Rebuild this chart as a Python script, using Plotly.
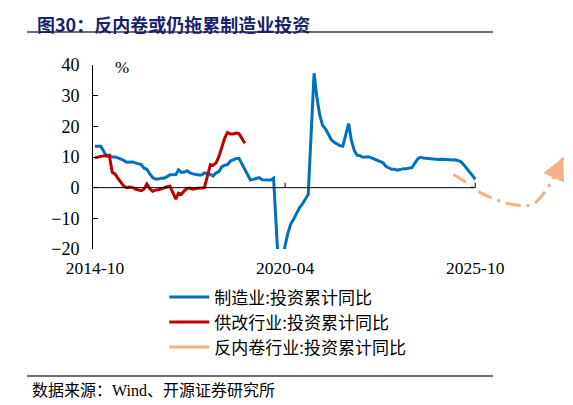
import plotly.graph_objects as go
import pandas as pd

# ---------------- data ----------------
def months_no_jan(start, end):
    out = []
    for d in pd.date_range(start, end, freq="MS"):
        if d.month != 1:
            out.append(d.strftime("%Y-%m-01"))
    return out

mfg_dates = months_no_jan("2014-10-01", "2025-10-01")
mfg_values = [
    13.5, 13.5, 13.5,                                              # 2014
    10.2, 10.4, 10.0, 10.0, 9.7, 9.4, 8.9, 8.3, 8.3, 8.4, 8.1,     # 2015
    7.5, 6.4, 6.0, 4.6, 3.3, 2.8, 2.8, 3.1, 3.1, 3.6, 4.2,         # 2016
    4.3, 5.8, 5.0, 5.1, 5.5, 4.8, 4.5, 4.2, 4.1, 4.1, 4.8,         # 2017
    4.3, 3.8, 4.8, 5.2, 6.8, 7.3, 7.5, 8.7, 9.1, 9.5, 9.5,         # 2018
    5.9, 4.6, 2.5, 2.7, 3.0, 3.3, 2.6, 2.5, 2.6, 2.5, 3.1,         # 2019
    -31.5, -25.2, -18.8, -14.8, -11.7, -10.2, -8.1, -6.5, -5.3, -3.5, -2.2,  # 2020
    37.3, 29.8, 23.8, 20.4, 19.2, 17.3, 15.7, 14.8, 14.2, 13.7, 13.5,        # 2021
    20.9, 15.6, 12.2, 10.6, 10.4, 9.9, 10.0, 10.1, 9.7, 9.3, 9.1,  # 2022
    8.1, 7.0, 6.4, 6.0, 6.0, 5.7, 5.9, 6.2, 6.2, 6.3, 6.5,         # 2023
    9.4, 9.9, 9.7, 9.6, 9.5, 9.3, 9.1, 9.2, 9.3, 9.3, 9.2,         # 2024
    9.0, 9.1, 8.8, 8.5, 7.5, 6.2, 5.1, 4.0, 2.7,                   # 2025
]

sup_dates = months_no_jan("2014-10-01", "2019-02-01")
sup_values = [
    9.7, 10.0, 10.2,                                               # 2014
    10.5, 10.6, 5.0, 4.5, 3.0, 1.8, 0.5, 0.0, 0.2, 0.1, -0.5,      # 2015
    -1.0, -0.5, 1.2, -0.3, -1.2, -0.8, -0.7, -0.3, 0.1, 0.3, 0.5,  # 2016
    -3.7, -1.8, -2.2, -1.0, -0.2, -0.2, -0.5, -0.3, -0.2, 0.0, 0.0,  # 2017
    7.5, 7.3, 8.0, 10.0, 13.0, 16.0, 18.0, 17.5, 17.5, 17.8, 17.6,  # 2018
    14.5,                                                          # 2019
]

anti_dates = ["2025-02-12", "2025-05-28", "2025-09-03", "2025-12-25", "2026-07-25",
              "2027-02-20", "2027-06-06", "2027-09-20", "2028-01-03", "2028-04-18"]
anti_values = [4.3, 2.3, 0.1, -2.1, -4.8, -5.9, -5.4, -2.1, 2.9, 9.9]

tick_dates = ["2014-10-01", "2020-04-01", "2025-10-01"]
tick_labels = ["2014-10", "2020-04", "2025-10"]

series_names = ["制造业:投资累计同比", "供改行业:投资累计同比", "反内卷行业:投资累计同比"]

# ---------------- style ----------------
BLUE = "#0070C0"
RED = "#C00000"
ORANGE = "#F4B183"
SERIF = "Liberation Serif, Times New Roman, serif"
CJK = "Noto Sans CJK SC, sans-serif"

fig = go.Figure()
fig.add_trace(go.Scatter(x=mfg_dates, y=mfg_values, mode="lines", name=series_names[0],
                         line=dict(color=BLUE, width=3)))
fig.add_trace(go.Scatter(x=sup_dates, y=sup_values, mode="lines", name=series_names[1],
                         line=dict(color=RED, width=3)))
fig.add_trace(go.Scatter(x=anti_dates, y=anti_values, mode="lines", name=series_names[2],
                         showlegend=False,
                         line=dict(color=ORANGE, width=3, dash="longdashdot", shape="spline",
                                   smoothing=0.8)))
# legend entry for the orange path (solid swatch as in the reference)
fig.add_trace(go.Scatter(x=[None], y=[None], mode="lines", name=series_names[2],
                         line=dict(color=ORANGE, width=3)))

# arrow head at the end of the orange path (tail at the previous path point)
fig.add_annotation(x=anti_dates[-1], y=anti_values[-1], xref="x", yref="y",
                   ax=anti_dates[-2], ay=anti_values[-2], axref="x", ayref="y",
                   showarrow=True, arrowhead=2, arrowsize=1.5, arrowwidth=3,
                   arrowcolor=ORANGE, text="", opacity=1)

# zero line (x axis crossing at 0) ending at the last tick
fig.add_shape(type="line", xref="x", yref="y", x0="2014-09-10", x1=tick_dates[-1],
              y0=0, y1=0, line=dict(color="black", width=1))
for td in tick_dates[1:]:
    fig.add_shape(type="line", xref="x", yref="y", x0=td, x1=td, y0=0, y1=1.6,
                  line=dict(color="black", width=1))

# % unit
fig.add_annotation(x=0.06, y=0.985, xref="paper", yref="paper", text="%", showarrow=False,
                   font=dict(family=SERIF, size=17, color="black"), xanchor="center", yanchor="middle")

# title
fig.add_annotation(x=-0.122, y=1.307, xref="paper", yref="paper",
                   text="<b>图30：反内卷或仍拖累制造业投资</b>", showarrow=False,
                   font=dict(family=CJK, size=18, color="#1A1F6E"), xanchor="left", yanchor="top")
fig.add_shape(type="line", xref="paper", yref="paper", x0=-0.139, x1=0.842, y0=1.179, y1=1.179,
              line=dict(color="#404040", width=1.5))

# footer
fig.add_shape(type="line", xref="paper", yref="paper", x0=-0.139, x1=0.842, y0=-0.690, y1=-0.690,
              line=dict(color="#404040", width=1.5))
fig.add_annotation(x=-0.132, y=-0.761, xref="paper", yref="paper",
                   text="数据来源：<span style='font-family:Liberation Serif'>Wind</span>、开源证券研究所",
                   showarrow=False, font=dict(family=CJK, size=16, color="black"),
                   xanchor="left", yanchor="middle")

# the page adds an 8px body margin, so the figure is 8px smaller on each axis
fig.update_layout(
    width=565, height=397,
    margin=dict(l=85, r=5, t=57, b=156),
    paper_bgcolor="white", plot_bgcolor="white",
    showlegend=True,
    legend=dict(x=0.15, y=-0.165, xanchor="left", yanchor="top", bgcolor="rgba(0,0,0,0)",
                font=dict(family=CJK, size=17, color="black"), itemwidth=40,
                tracegroupgap=0),
    xaxis=dict(type="date", range=["2014-09-10", "2028-06-07"], showgrid=False, zeroline=False,
               showline=False, ticks="", tickmode="array", tickvals=tick_dates, ticktext=tick_labels,
               ticklabelstandoff=6,
               tickfont=dict(family=SERIF, size=17.5, color="black")),
    yaxis=dict(range=[-20, 40], dtick=10, tick0=0, showgrid=False, zeroline=False,
               showline=True, linecolor="black", linewidth=1, ticks="inside", ticklen=5,
               tickcolor="black", ticklabelstandoff=9,
               tickfont=dict(family=SERIF, size=18, color="black")),
)

fig.write_html("out.html")
